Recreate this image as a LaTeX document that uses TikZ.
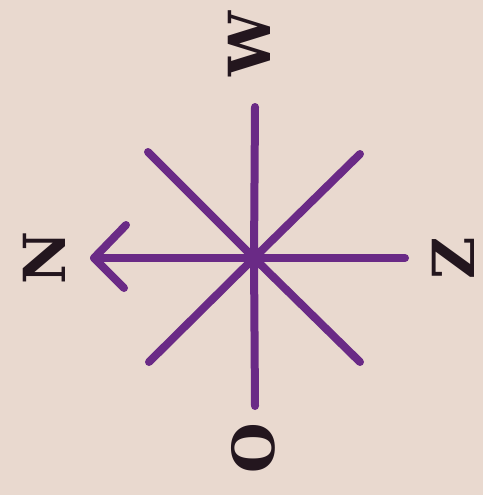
\documentclass[tikz,border=0pt]{standalone}
\usepackage{fontspec}
\setmainfont{DejaVu Serif}
\usepackage{xcolor}
\usetikzlibrary{positioning}
\definecolor{compasspurple}{RGB}{106, 42, 134}
\definecolor{compassink}{RGB}{35, 22, 30}
\definecolor{compassbg}{RGB}{233, 217, 207}

\begin{document}
\begin{tikzpicture}[x=1pt, y=-1pt,
    ray/.style={draw=compasspurple, line width=8pt, line cap=round, line join=round},
    letter/.style={font=\fontsize{58}{58}\selectfont\bfseries, text=compassink, rotate=90, inner sep=0pt}
]
    % Background
    \fill[compassbg] (0,0) rectangle (483,495);
    \useasboundingbox (0,0) rectangle (483,495);

    % Centre and ray ends
    \coordinate (c) at (254,258);
    \coordinate (top) at (255,107);
    \coordinate (bottom) at (255,406);
    \coordinate (tip) at (94,258);
    \coordinate (right) at (405,258);
    \coordinate (tl) at (148,152);
    \coordinate (tr) at (360,154);
    \coordinate (bl) at (149,362);
    \coordinate (br) at (360,362);
    \coordinate (barbup) at (126,225);
    \coordinate (barbdown) at (124,288);

    % Rays
    \draw[ray] (top) -- (c) -- (bottom);
    \draw[ray] (tip) -- (c) -- (right);
    \draw[ray] (tl) -- (c) -- (br);
    \draw[ray] (tr) -- (c) -- (bl);

    % Arrow head
    \draw[ray] (barbup) -- (tip) -- (barbdown);

    % Letters
    \node[letter] (w) at (249,44) {W};
    \node[letter] (n) at (44,258) {N};
    \node[letter] (z) at (453,258) {Z};
    \node[letter] (o) at (253,448) {O};
\end{tikzpicture}
\end{document}
